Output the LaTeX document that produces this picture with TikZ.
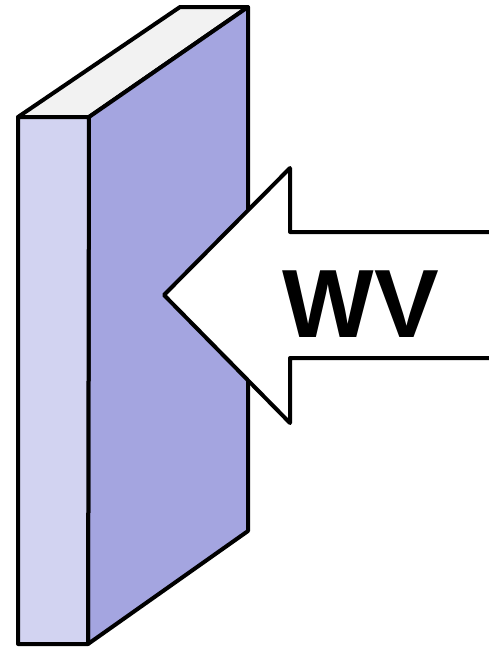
\documentclass[tikz,border=0pt]{standalone}
\usepackage{fontspec}
\setsansfont{Liberation Sans}
\definecolor{PanelFront}{HTML}{D2D3F1}
\definecolor{PanelSide}{HTML}{A4A5E0}
\definecolor{PanelTop}{HTML}{F2F2F2}

\begin{document}
\begin{tikzpicture}[x=1pt,y=-1pt,line width=4pt,line join=round]
  \useasboundingbox (0,0) rectangle (489,648);
  % slab
  \filldraw[fill=PanelTop] (18,117) -- (180,7) -- (248,7) -- (89,117) -- cycle;
  \filldraw[fill=PanelSide] (89,117) -- (248,7) -- (248,531) -- (88,644) -- cycle;
  \filldraw[fill=PanelFront] (18,117) -- (89,117) -- (88,644) -- (18,644) -- cycle;
  % arrow
  \fill[white] (491,232) -- (290,232) -- (290,168) -- (164,295) -- (290,423) -- (290,358) -- (491,358) -- cycle;
  \draw (491,232) -- (290,232) -- (290,168) -- (164,295) -- (290,423) -- (290,358) -- (491,358);
  \node[font=\sffamily\bfseries\fontsize{97}{97}\selectfont,inner sep=0pt,anchor=base] (wv) at (361,337) {WV};
\end{tikzpicture}
\end{document}
